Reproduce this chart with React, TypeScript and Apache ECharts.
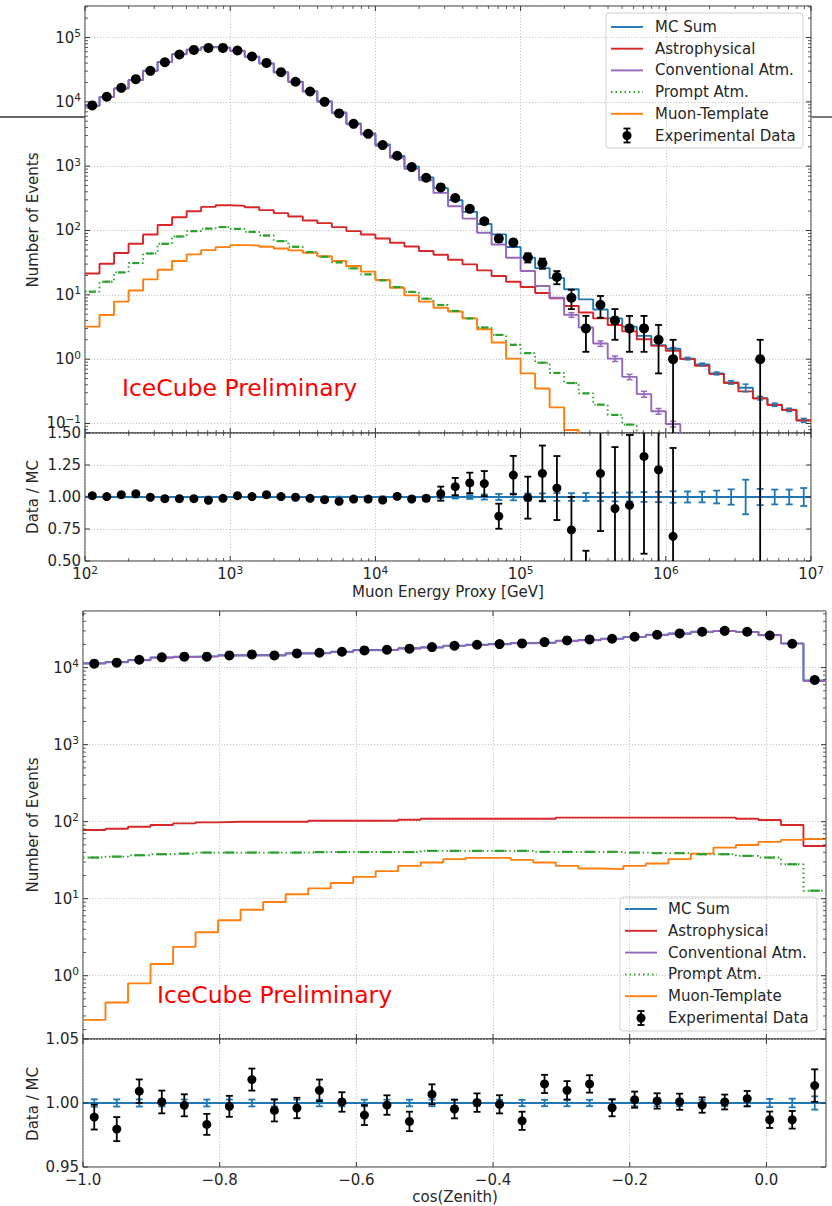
import React, { useEffect, useRef } from 'react';
import * as echarts from 'echarts';

// ---------------- Energy (top) panel ----------------
const energyEdgeExp = [2.0, 2.1, 2.2, 2.3, 2.4, 2.5, 2.6, 2.7, 2.8, 2.9, 3.0, 3.1, 3.2, 3.3, 3.4, 3.5, 3.6, 3.7, 3.8, 3.9,
  4.0, 4.1, 4.2, 4.3, 4.4, 4.5, 4.6, 4.7, 4.8, 4.9, 5.0, 5.1, 5.2, 5.3, 5.4, 5.5, 5.6, 5.7, 5.8, 5.9,
  6.0, 6.1, 6.2, 6.3, 6.4, 6.5, 6.6, 6.7, 6.8, 6.9, 7.0];

const dataE = [8800, 12000, 16500, 22500, 30300, 41300, 54500, 64100, 69000, 69000,
  62800, 50700, 40300, 28900, 20500, 14500, 10000, 6600, 4550, 3180,
  2130, 1450, 968, 660, 467, 320, 217, 139, 75, 65,
  38, 31, 19, 9, 3, 7, 4, 3, 3, 2,
  1, null, null, null, null, null, 1, null, null, null];
const dataEErr = [94, 110, 128, 150, 174, 203, 233, 253, 263, 263,
  251, 225, 201, 170, 143, 120, 100, 81, 67, 56,
  46, 38, 31, 26, 22, 18, 15, 12, 8.7, 8,
  6.2, 5.6, 4.4, 3, 1.7, 2.6, 2, 1.7, 1.7, 1.4,
  1, null, null, null, null, null, 1, null, null, null];
const mcSumE = [8710, 11960, 16200, 21900, 30360, 41840, 55200, 64900, 70800, 69700,
  62200, 50500, 39600, 28800, 20540, 14650, 10200, 6830, 4620, 3230,
  2180, 1440, 984, 667, 455, 296, 195, 126, 87, 55.5,
  37.8, 26, 18.2, 12.2, 8.5, 5.9, 4.3, 3.2, 2.3, 1.65,
  1.45, 1.02, 0.83, 0.6, 0.435, 0.36, 0.248, 0.196, 0.163, 0.112];
const astroE = [21.5, 30.4, 44.6, 62.1, 86.7, 122, 161, 199, 233, 247,
  241, 230, 207, 186, 165, 143, 130, 113, 97.7, 86.7,
  75.2, 64.4, 56.5, 47.9, 42.0, 35.1, 29.7, 24.0, 19.6, 16.0,
  13.2, 10.7, 8.8, 6.7, 5.3, 4.3, 3.4, 2.7, 2.04, 1.61,
  1.35, 1.0, 0.79, 0.585, 0.425, 0.315, 0.245, 0.194, 0.162, 0.111];
const convE = [8670, 11910, 16120, 21800, 30210, 41630, 54920, 64560, 70410, 69290,
  61790, 50120, 39250, 28490, 20270, 14420, 9990, 6650, 4470, 3100,
  2070, 1350, 907, 603, 384, 238, 153, 92, 60.7, 37.7,
  23.4, 13.7, 9.0, 4.87, 3.1, 1.75, 1.02, 0.53, 0.286, 0.155,
  0.098, 0.05, null, null, null, null, null, null, null, null];
const convEErr = [null, null, null, null, null, null, null, null, null, null,
  null, null, null, null, null, null, null, null, null, null,
  null, null, null, null, null, null, null, null, null, null,
  null, null, null, 0.4, 0.3, 0.17, 0.1, 0.05, 0.03, 0.016,
  0.01, null, null, null, null, null, null, null, null, null];
const promptE = [11.2, 16.0, 22.3, 31.2, 44.0, 62.1, 80.7, 97.7, 107, 113,
  106, 95.3, 83.6, 68.3, 55.8, 46.2, 39.1, 31.9, 25.8, 20.8,
  16.8, 13.2, 11.1, 8.7, 6.95, 5.6, 4.3, 3.1, 2.38, 1.67,
  1.24, 0.88, 0.61, 0.425, 0.294, 0.196, 0.136, 0.096, 0.05, null,
  null, null, null, null, null, null, null, null, null, null];
const muonE = [3.2, 4.86, 7.83, 11.7, 17.4, 24.5, 33.5, 42.5, 49.6, 55.2,
  59.3, 58.5, 55.8, 52.6, 49.0, 45.1, 40.0, 33.5, 28.0, 22.9,
  17.0, 12.9, 9.8, 7.83, 6.3, 5.5, 4.3, 2.92, 1.81, 1.02,
  0.6, 0.35, 0.178, 0.079, 0.04, null, null, null, null, null,
  null, null, null, null, null, null, null, null, null, null];
const ratioE = [1.010, 1.003, 1.018, 1.026, 0.998, 0.987, 0.987, 0.987, 0.974, 0.990,
  1.010, 1.003, 1.018, 1.003, 0.998, 0.990, 0.979, 0.966, 0.984, 0.984,
  0.976, 1.005, 0.984, 0.990, 1.026, 1.081, 1.110, 1.105, 0.850, 1.171,
  0.995, 1.184, 1.070, 0.743, 0.35, 1.184, 0.91, 0.935, 1.317, 1.213,
  0.693, null, null, null, null, null, 4.0, null, null, null];
const ratioEErr = [0.011, 0.009, 0.008, 0.007, 0.006, 0.005, 0.004, 0.004, 0.004, 0.004,
  0.004, 0.005, 0.005, 0.006, 0.007, 0.008, 0.010, 0.012, 0.013, 0.013,
  0.014, 0.015, 0.016, 0.020, 0.055, 0.068, 0.080, 0.098, 0.098, 0.150,
  0.164, 0.218, 0.250, 0.257, 0.230, 0.450, 0.480, 0.550, 0.760, 0.860,
  0.690, null, null, null, null, null, 4.0, null, null, null];
const mcRelErrE = [0.003, 0.003, 0.003, 0.003, 0.003, 0.003, 0.003, 0.003, 0.003, 0.003,
  0.003, 0.003, 0.003, 0.003, 0.003, 0.003, 0.003, 0.003, 0.003, 0.004,
  0.004, 0.005, 0.006, 0.008, 0.010, 0.012, 0.015, 0.020, 0.024, 0.026,
  0.027, 0.028, 0.030, 0.030, 0.031, 0.032, 0.034, 0.035, 0.038, 0.040,
  0.045, 0.043, 0.042, 0.050, 0.060, 0.135, 0.063, 0.058, 0.058, 0.070];

// ---------------- Zenith (bottom) panel ----------------
const cosEdges = [-1.0, -0.9671, -0.9341, -0.9012, -0.8682, -0.8353, -0.8023, -0.7694, -0.7364, -0.7035,
  -0.6705, -0.6376, -0.6047, -0.5717, -0.5388, -0.5058, -0.4729, -0.4399, -0.4070, -0.3740,
  -0.3411, -0.3082, -0.2752, -0.2423, -0.2093, -0.1764, -0.1434, -0.1105, -0.0775, -0.0446,
  -0.0116, 0.0213, 0.0542, 0.0872];
const dataZ = [11270, 11600, 12680, 13600, 13880, 13880, 14430, 14860, 14430, 15310,
  15630, 16100, 16760, 17100, 17620, 18500, 19250, 19820, 20230, 20650,
  21490, 22560, 23240, 23710, 25180, 26730, 27800, 29250, 30090, 29250,
  26180, 20420, 6920];
const mcSumZ = [11400, 11840, 12560, 13590, 13900, 14120, 14470, 14590, 14510, 15370,
  15480, 16090, 16920, 17130, 17880, 18380, 19340, 19810, 20250, 20940,
  21170, 22340, 22900, 23800, 25110, 26690, 27770, 29300, 30070, 29150,
  26530, 20690, 6830];
const astroZ = [78, 81, 86, 90.6, 95, 98, 100, 100, 100, 100,
  103, 103, 103, 103, 106, 109, 109, 109, 109, 109,
  109, 113, 113, 113, 113, 113, 113, 113, 113, 109,
  105, 90.6, 48.4];
const convZ = [11288, 11723, 12436, 13460, 13764, 13979, 14325, 14443, 14361, 15219,
  15324, 15931, 16755, 16961, 17704, 18200, 19157, 19625, 20061, 20753,
  20987, 22160, 22722, 23622, 24931, 26509, 27585, 29111, 29873, 28955,
  26336, 20513, 6709];
const promptZ = [34.2, 35.2, 36.7, 37.8, 38.5, 39.7, 39.7, 39.7, 39.7, 39.7,
  40.3, 40.3, 40.3, 40.3, 40.3, 41.8, 41.8, 41.8, 41.8, 41.8,
  40.6, 40.6, 40.6, 40.6, 39.7, 39.0, 39.0, 37.8, 37.8, 36.0,
  34.2, 28.0, 12.7];
const muonZ = [0.267, 0.448, 0.796, 1.42, 2.37, 3.67, 5.25, 7.2, 9.06, 11.4,
  13.6, 16.0, 19.2, 22.8, 26.7, 29.5, 32.6, 33.9, 33.9, 31.9,
  29.5, 26.7, 24.7, 24.2, 26.7, 28.7, 32.6, 38.5, 46.1, 49.9,
  54.6, 58.0, 59.7];
const ratioZ = [0.989, 0.9796, 1.0092, 1.0008, 0.9982, 0.9833, 0.9974, 1.0183, 0.9942, 0.9961,
  1.0099, 1.0008, 0.9906, 0.9984, 0.9856, 1.0068, 0.9953, 1.0003, 0.999, 0.9861,
  1.0149, 1.0099, 1.0149, 0.9963, 1.0026, 1.0016, 1.001, 0.9984, 1.0008, 1.0034,
  0.9869, 0.9869, 1.0136];
const ratioZErr = [0.0097, 0.0094, 0.0092, 0.0089, 0.0086, 0.0082, 0.0082, 0.0086, 0.0086, 0.008,
  0.0084, 0.0076, 0.0078, 0.0076, 0.0076, 0.0078, 0.0073, 0.0072, 0.0071, 0.0071,
  0.0071, 0.0072, 0.0068, 0.0067, 0.0063, 0.006, 0.0063, 0.006, 0.0058, 0.006,
  0.0064, 0.0069, 0.0127];
const mcErrZ = [0.0029, 0.0028, 0.0028, 0.0027, 0.0027, 0.0027, 0.0027, 0.0027, 0.0027, 0.0026,
  0.0026, 0.0026, 0.0026, 0.0026, 0.0026, 0.0026, 0.0026, 0.0025, 0.0025, 0.0025,
  0.0025, 0.0025, 0.0025, 0.0025, 0.0025, 0.0025, 0.0025, 0.0025, 0.0025, 0.0026,
  0.0032, 0.0034, 0.0052];

const legendNames = ['MC Sum', 'Astrophysical', 'Conventional Atm.', 'Prompt Atm.', 'Muon-Template', 'Experimental Data'];

// ---------------- styling ----------------
const FONT = 'DejaVu Sans';
const TXT = '#262626';
const C_BLUE = '#1f77b4', C_RED = '#d62728', C_PURPLE = '#9467bd', C_GREEN = '#2ca02c', C_ORANGE = '#ff7f0e';
const SPINE = '#333333';

const nz = (v: any) => (v === null || v === undefined ? '-' : v);

function stepData(edges: number[], vals: (number | null)[]) {
  const out: any[] = [];
  for (let i = 0; i < vals.length; i++) out.push([edges[i], nz(vals[i])]);
  out.push([edges[vals.length], nz(vals[vals.length - 1])]);
  return out;
}

function stepSeries(gi: number, edges: number[], vals: any[], color: string, dotted = false) {
  return {
    type: 'line', xAxisIndex: gi, yAxisIndex: gi, step: 'end', symbol: 'none', silent: true,
    connectNulls: false, z: 2, data: stepData(edges, vals),
    lineStyle: { color, width: 1.9, type: dotted ? [1.5, 3] : 'solid' }, itemStyle: { color },
  };
}

function errSeries(gi: number, pts: any[], color: string, cap: number, lw: number, z: number) {
  return {
    type: 'custom', xAxisIndex: gi, yAxisIndex: gi, clip: true, silent: true, z,
    data: pts,
    renderItem: (params: any, api: any) => {
      const x = api.value(0), lo = api.value(2), hi = api.value(3);
      const a = api.coord([x, lo]), b = api.coord([x, hi]);
      const st = { stroke: color, lineWidth: lw };
      return {
        type: 'group', children: [
          { type: 'line', shape: { x1: a[0], y1: a[1], x2: b[0], y2: b[1] }, style: st },
          { type: 'line', shape: { x1: a[0] - cap, y1: a[1], x2: a[0] + cap, y2: a[1] }, style: st },
          { type: 'line', shape: { x1: b[0] - cap, y1: b[1], x2: b[0] + cap, y2: b[1] }, style: st },
        ],
      };
    },
  };
}

function dashSeries(gi: number, xs: number[], vals: any[], color: string, half: number, lw: number) {
  return {
    type: 'custom', xAxisIndex: gi, yAxisIndex: gi, clip: true, silent: true, z: 3,
    data: xs.map((x, i) => (vals[i] == null ? null : [x, vals[i]])).filter(Boolean),
    renderItem: (params: any, api: any) => {
      const p = api.coord([api.value(0), api.value(1)]);
      return { type: 'line', shape: { x1: p[0] - half, y1: p[1], x2: p[0] + half, y2: p[1] }, style: { stroke: color, lineWidth: lw } };
    },
  };
}

function tickSeries(gi: number, dir: 'x' | 'y', vals: number[], ref: number, len: number, lw: number) {
  return {
    type: 'custom', xAxisIndex: gi, yAxisIndex: gi, silent: true, z: 6,
    data: vals.map((v) => (dir === 'x' ? [v, ref] : [ref, v])),
    renderItem: (params: any, api: any) => {
      const cs = params.coordSys;
      const p = api.coord([api.value(0), api.value(1)]);
      const st = { stroke: SPINE, lineWidth: lw };
      if (dir === 'x') {
        const yb = cs.y + cs.height, yt = cs.y;
        return {
          type: 'group', children: [
            { type: 'line', shape: { x1: p[0], y1: yb, x2: p[0], y2: yb - len }, style: st },
            { type: 'line', shape: { x1: p[0], y1: yt, x2: p[0], y2: yt + len }, style: st },
          ],
        };
      }
      const xl = cs.x, xr = cs.x + cs.width;
      return {
        type: 'group', children: [
          { type: 'line', shape: { x1: xl, y1: p[1], x2: xl + len, y2: p[1] }, style: st },
          { type: 'line', shape: { x1: xr, y1: p[1], x2: xr - len, y2: p[1] }, style: st },
        ],
      };
    },
  };
}

function decades(lo: number, hi: number) {
  const out: number[] = [];
  for (let e = Math.floor(Math.log10(lo)); e <= Math.ceil(Math.log10(hi)); e++) {
    const v = Math.pow(10, e);
    if (v >= lo * 0.9999 && v <= hi * 1.0001) out.push(v);
  }
  return out;
}
function minors(lo: number, hi: number) {
  const out: number[] = [];
  for (let e = Math.floor(Math.log10(lo)); e <= Math.ceil(Math.log10(hi)); e++) {
    for (let m = 2; m <= 9; m++) {
      const v = m * Math.pow(10, e);
      if (v > lo && v < hi) out.push(v);
    }
  }
  return out;
}

function logLabel(v: number) {
  const l = Math.log10(v);
  const e = Math.round(l);
  if (Math.abs(l - e) > 1e-6) return '';
  return `{b|10}{s|${e < 0 ? '\u2212' + -e : e}}`;
}
const supRich = {
  b: { fontSize: 15, lineHeight: 20, fontFamily: FONT, color: TXT },
  s: { fontSize: 10.5, lineHeight: 10, verticalAlign: 'top', fontFamily: FONT, color: TXT },
};
const splitL = { show: true, lineStyle: { color: '#bdbdbd', type: [1.2, 1.8], width: 0.8 } };

function buildLegend(bx: number, by: number, bw: number, bh: number, row0: number, dy: number, lx0: number, lx1: number, tx: number) {
  const colors = [C_BLUE, C_RED, C_PURPLE, C_GREEN, C_ORANGE];
  const children: any[] = [
    { type: 'rect', shape: { x: bx, y: by, width: bw, height: bh, r: 3 }, style: { fill: 'rgba(255,255,255,0.85)', stroke: '#d0d0d0', lineWidth: 1 } },
  ];
  legendNames.forEach((name, i) => {
    const y = row0 + i * dy;
    if (i < 5) {
      children.push({
        type: 'line', shape: { x1: lx0, y1: y, x2: lx1, y2: y },
        style: { stroke: colors[i], lineWidth: i === 3 ? 2 : 1.9, lineDash: i === 3 ? [1.5, 3] : null },
      });
    } else {
      const cx = (lx0 + lx1) / 2;
      const st = { stroke: '#000', lineWidth: 1.8 };
      children.push({ type: 'line', shape: { x1: cx, y1: y - 7, x2: cx, y2: y + 7 }, style: st });
      children.push({ type: 'line', shape: { x1: cx - 3.5, y1: y - 7, x2: cx + 3.5, y2: y - 7 }, style: st });
      children.push({ type: 'line', shape: { x1: cx - 3.5, y1: y + 7, x2: cx + 3.5, y2: y + 7 }, style: st });
      children.push({ type: 'circle', shape: { cx, cy: y, r: 4.5 }, style: { fill: '#000' } });
    }
    children.push({
      type: 'text', x: tx, y,
      style: { text: name, font: `15px "${FONT}"`, fill: TXT, verticalAlign: 'middle', align: 'left' },
    });
  });
  return { type: 'group', z: 100, children };
}

function buildOption() {
  const eEdges = energyEdgeExp.map((e) => Math.pow(10, e));
  const eCenters = energyEdgeExp.slice(0, -1).map((e, i) => Math.pow(10, (e + energyEdgeExp[i + 1]) / 2));
  const zCenters = cosEdges.slice(0, -1).map((e, i) => (e + cosEdges[i + 1]) / 2);

  const yTopMin = 0.0711, yTopMax = 3.09e5;
  const yBotMin = 0.1507, yBotMax = 54400;
  const xZMin = -1, xZMax = 0.0872;

  const dataEPts = eCenters.map((x, i) => (dataE[i] == null ? null : [x, dataE[i]])).filter(Boolean);
  const dataEErrPts = eCenters.map((x, i) => (dataE[i] == null ? null : [x, dataE[i], Math.max((dataE[i] as number) - (dataEErr[i] as number), 1e-6), (dataE[i] as number) + (dataEErr[i] as number)])).filter(Boolean);
  const convErrPts = eCenters.map((x, i) => (convEErr[i] == null ? null : [x, convE[i], (convE[i] as number) - (convEErr[i] as number), (convE[i] as number) + (convEErr[i] as number)])).filter(Boolean);
  const mcErrMainPts = eCenters.map((x, i) => (i < 40 ? null : [x, mcSumE[i], mcSumE[i] * (1 - mcRelErrE[i]), mcSumE[i] * (1 + mcRelErrE[i])])).filter(Boolean);
  const ratioEPts = eCenters.map((x, i) => (ratioE[i] == null ? null : [x, ratioE[i]])).filter(Boolean);
  const ratioEErrPts = eCenters.map((x, i) => (ratioE[i] == null ? null : [x, ratioE[i], (ratioE[i] as number) - (ratioEErr[i] as number), (ratioE[i] as number) + (ratioEErr[i] as number)])).filter(Boolean);
  const mcErrEPts = eCenters.map((x, i) => [x, 1, 1 - mcRelErrE[i], 1 + mcRelErrE[i]]);

  const dataZPts = zCenters.map((x, i) => [x, dataZ[i]]);
  const ratioZPts = zCenters.map((x, i) => [x, ratioZ[i]]);
  const ratioZErrPts = zCenters.map((x, i) => [x, ratioZ[i], ratioZ[i] - ratioZErr[i], ratioZ[i] + ratioZErr[i]]);
  const mcErrZPts = zCenters.map((x, i) => [x, 1, 1 - mcErrZ[i], 1 + mcErrZ[i]]);

  const labelBase = { fontSize: 15, fontFamily: FONT, color: TXT };
  const logXAxis = (gi: number, show: boolean) => ({
    type: 'log', logBase: 10, gridIndex: gi, min: 100, max: 1e7,
    axisLine: { show: false }, axisTick: { show: false }, splitLine: splitL,
    axisLabel: show ? { show: true, formatter: logLabel, rich: supRich, margin: 3, ...labelBase } : { show: false },
  });
  const zXAxis = (gi: number, show: boolean) => ({
    type: 'value', gridIndex: gi, min: xZMin, max: xZMax, interval: 0.2,
    axisLine: { show: false }, axisTick: { show: false }, splitLine: splitL,
    axisLabel: show ? {
      show: true, margin: 5, ...labelBase,
      formatter: (v: number) => {
        if (Math.abs(v / 0.2 - Math.round(v / 0.2)) > 1e-6) return '';
        if (Math.abs(v) < 1e-9) return '0.0';
        return v.toFixed(1).replace('-', '\u2212');
      },
    } : { show: false },
  });
  const logYAxis = (gi: number, min: number, max: number) => ({
    type: 'log', logBase: 10, gridIndex: gi, min, max,
    axisLine: { show: false }, axisTick: { show: false }, splitLine: splitL,
    axisLabel: { show: true, formatter: logLabel, rich: supRich, margin: 4, ...labelBase },
  });
  const linYAxis = (gi: number, min: number, max: number, interval: number) => ({
    type: 'value', gridIndex: gi, min, max, interval,
    axisLine: { show: false }, axisTick: { show: false }, splitLine: splitL,
    axisLabel: { show: true, margin: 4, formatter: (v: number) => v.toFixed(2), ...labelBase },
  });

  const gridStyle = { show: true, borderColor: SPINE, borderWidth: 1, backgroundColor: 'transparent' };
  const dot = { color: '#000', opacity: 1 };

  const series: any[] = [
    // top main
    stepSeries(0, eEdges, mcSumE, C_BLUE),
    stepSeries(0, eEdges, astroE, C_RED),
    stepSeries(0, eEdges, convE, C_PURPLE),
    stepSeries(0, eEdges, promptE, C_GREEN, true),
    dashSeries(0, eCenters, promptE, C_GREEN, 3.5, 2.2),
    stepSeries(0, eEdges, muonE, C_ORANGE),
    errSeries(0, convErrPts, C_PURPLE, 3, 1.5, 3),
    errSeries(0, mcErrMainPts, C_BLUE, 3, 1.5, 3),
    errSeries(0, dataEErrPts, '#000', 3.5, 1.8, 4),
    { type: 'scatter', xAxisIndex: 0, yAxisIndex: 0, data: dataEPts, symbol: 'circle', symbolSize: 10, itemStyle: dot, z: 5, silent: true },
    // top ratio
    { type: 'line', xAxisIndex: 1, yAxisIndex: 1, data: [[100, 1], [1e7, 1]], symbol: 'none', lineStyle: { color: C_BLUE, width: 2 }, z: 2, silent: true },
    errSeries(1, mcErrEPts, C_BLUE, 3.5, 1.8, 3),
    errSeries(1, ratioEErrPts, '#000', 3.5, 1.8, 4),
    { type: 'scatter', xAxisIndex: 1, yAxisIndex: 1, data: ratioEPts, symbol: 'circle', symbolSize: 9, itemStyle: dot, z: 5, silent: true },
    // bottom main
    stepSeries(2, cosEdges, mcSumZ, C_BLUE),
    stepSeries(2, cosEdges, astroZ, C_RED),
    stepSeries(2, cosEdges, convZ, C_PURPLE),
    stepSeries(2, cosEdges, promptZ, C_GREEN, true),
    dashSeries(2, zCenters, promptZ, C_GREEN, 5, 2.2),
    stepSeries(2, cosEdges, muonZ, C_ORANGE),
    { type: 'scatter', xAxisIndex: 2, yAxisIndex: 2, data: dataZPts, symbol: 'circle', symbolSize: 10, itemStyle: dot, z: 5, silent: true },
    // bottom ratio
    { type: 'line', xAxisIndex: 3, yAxisIndex: 3, data: [[xZMin, 1], [xZMax, 1]], symbol: 'none', lineStyle: { color: C_BLUE, width: 2 }, z: 2, silent: true },
    errSeries(3, mcErrZPts, C_BLUE, 3.5, 1.8, 3),
    errSeries(3, ratioZErrPts, '#000', 3.5, 1.8, 4),
    { type: 'scatter', xAxisIndex: 3, yAxisIndex: 3, data: ratioZPts, symbol: 'circle', symbolSize: 9, itemStyle: dot, z: 5, silent: true },
    // ticks
    tickSeries(0, 'x', decades(100, 1e7), 1, 5, 1),
    tickSeries(0, 'x', minors(100, 1e7), 1, 3, 0.8),
    tickSeries(0, 'y', decades(yTopMin, yTopMax), 1000, 5, 1),
    tickSeries(0, 'y', minors(yTopMin, yTopMax), 1000, 3, 0.8),
    tickSeries(1, 'x', decades(100, 1e7), 1, 5, 1),
    tickSeries(1, 'x', minors(100, 1e7), 1, 3, 0.8),
    tickSeries(1, 'y', [0.5, 0.75, 1.0, 1.25, 1.5], 1000, 5, 1),
    tickSeries(2, 'x', [-1, -0.8, -0.6, -0.4, -0.2, 0], 1, 5, 1),
    tickSeries(2, 'y', decades(yBotMin, yBotMax), -0.5, 5, 1),
    tickSeries(2, 'y', minors(yBotMin, yBotMax), -0.5, 3, 0.8),
    tickSeries(3, 'x', [-1, -0.8, -0.6, -0.4, -0.2, 0], 1, 5, 1),
    tickSeries(3, 'y', [0.95, 1.0, 1.05], -0.5, 5, 1),
  ];

  const axisName = (text: string, x: number, y: number, rot: boolean) => ({
    type: 'text', x, y, rotation: rot ? Math.PI / 2 : 0, z: 50,
    style: { text, font: `15px "${FONT}"`, fill: TXT, align: 'center', verticalAlign: 'middle' },
  });

  return {
    animation: false,
    backgroundColor: '#ffffff',
    grid: [
      { left: 85, top: 6, width: 726, height: 427, ...gridStyle },
      { left: 85, top: 433, width: 726, height: 128, ...gridStyle },
      { left: 83, top: 611, width: 743, height: 428, ...gridStyle },
      { left: 83, top: 1039, width: 743, height: 128, ...gridStyle },
    ],
    xAxis: [logXAxis(0, false), logXAxis(1, true), zXAxis(2, false), zXAxis(3, true)],
    yAxis: [
      logYAxis(0, yTopMin, yTopMax),
      linYAxis(1, 0.5, 1.5, 0.25),
      logYAxis(2, yBotMin, yBotMax),
      linYAxis(3, 0.95, 1.05, 0.05),
    ],
    series,
    graphic: [
      { type: 'line', shape: { x1: 0, y1: 117, x2: 85, y2: 117 }, style: { stroke: '#333', lineWidth: 1.3 }, z: 0 },
      { type: 'line', shape: { x1: 811, y1: 117, x2: 832, y2: 117 }, style: { stroke: '#333', lineWidth: 1.3 }, z: 0 },
      axisName('Number of Events', 33, 220, true),
      axisName('Data / MC', 33, 497, true),
      axisName('Number of Events', 33, 825, true),
      axisName('Data / MC', 33, 1104, true),
      axisName('Muon Energy Proxy [GeV]', 448, 592, false),
      axisName('cos(Zenith)', 455, 1197, false),
      { type: 'text', x: 122, y: 388, z: 50, style: { text: 'IceCube Preliminary', font: `23.5px "${FONT}"`, fill: '#ff0000', verticalAlign: 'middle', align: 'left' } },
      { type: 'text', x: 157, y: 995, z: 50, style: { text: 'IceCube Preliminary', font: `23.5px "${FONT}"`, fill: '#ff0000', verticalAlign: 'middle', align: 'left' } },
      buildLegend(606, 13, 197, 135, 27, 21.7, 611, 643, 655),
      buildLegend(620, 897, 197, 134, 909, 21.8, 625, 657, 668),
    ],
  };
}

export default function App() {
  const ref = useRef<HTMLDivElement>(null);
  useEffect(() => {
    document.body.style.margin = '0';
    const chart = echarts.init(ref.current as HTMLDivElement, undefined, { renderer: 'svg' });
    chart.setOption(buildOption() as any);
    return () => chart.dispose();
  }, []);
  return <div ref={ref} style={{ width: 832, height: 1206 }} />;
}
